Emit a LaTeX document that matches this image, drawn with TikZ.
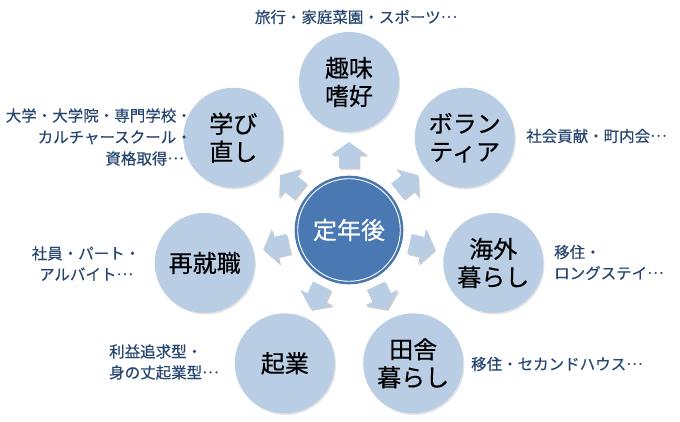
\documentclass[tikz,border=0pt]{standalone}
\usepackage{fontspec}
\setmainfont{Noto Sans CJK JP}
\newfontfamily\jpfont[FakeBold=0.35]{Noto Sans CJK JP}
\newcommand{\middots}{\raisebox{0.33em}{…}}
\usetikzlibrary{calc,shadows}
\definecolor{outerfill}{HTML}{B9CDE5}
\definecolor{centerfill}{HTML}{4A78B2}
\definecolor{centeredge}{HTML}{3F6AA0}
\definecolor{labeltext}{HTML}{264670}
\definecolor{arrowfill}{HTML}{B9CDE5}
\tikzset{
  outer/.style={circle, fill=outerfill, minimum size=100pt, inner sep=0pt, align=center,
    font=\jpfont\fontsize{24}{28}\selectfont, text=black,
    drop shadow={opacity=0.22, shadow xshift=1.2pt, shadow yshift=-1.6pt}},
  centercirc/.style={circle, fill=centerfill, draw=centeredge, line width=0.6pt, minimum size=108pt,
    inner sep=0pt, font=\jpfont\fontsize{24}{28}\selectfont, text=white},
  lab/.style={inner sep=0pt, text=labeltext, font=\jpfont\fontsize{15.5}{21.5}\selectfont},
  blockarrow/.pic={\fill[arrowfill] (-13,-10) -- (0,-10) -- (0,-18) -- (13,0) -- (0,18) -- (0,10) -- (-13,10) -- cycle;},
  blockshadow/.pic={\fill[black, opacity=0.2] (-13,-10) -- (0,-10) -- (0,-18) -- (13,0) -- (0,18) -- (0,10) -- (-13,10) -- cycle;}
}
\begin{document}
\begin{tikzpicture}[x=1pt,y=1pt]
\useasboundingbox (0,0) rectangle (680,422);
\coordinate (c) at (349,192);
\node[centercirc] (ctr) at (c) {定年後};
\draw[white, line width=0.9pt] (ctr.center) circle (51.3);
\node[outer] (o1) at ($(c)+(90:148)$) {趣味\\嗜好};
\node[outer] (o2) at ($(c)+(38.57:148)$) {ボラン\\ティア};
\node[outer] (o3) at ($(c)+(-12.86:148)$) {海外\\暮らし};
\node[outer] (o4) at ($(c)+(-64.29:148)$) {田舎\\暮らし};
\node[outer] (o5) at ($(c)+(-115.71:148)$) {起業};
\node[outer] (o6) at ($(c)+(-167.14:148)$) {再就職};
\node[outer] (o7) at ($(c)+(141.43:148)$) {学び\\直し};
\foreach \n/\a in {o1/90, o2/38.57, o3/-12.86, o4/-64.29, o5/-115.71, o6/-167.14, o7/141.43} {
  \pic[rotate=\a] at ($(ctr)!75pt!(\n)+(1.3,-1.6)$) {blockshadow};
  \pic[rotate=\a] at ($(ctr)!75pt!(\n)$) {blockarrow};
}
\node[lab] (l1) at (356,405) {旅行・家庭菜園・スポーツ\middots};
\node[lab, anchor=west] (l2) at (526,286) {社会貢献・町内会\middots};
\node[lab, anchor=west, align=left, font=\jpfont\fontsize{15.5}{21}\selectfont] (l3) at (554,159.5) {移住・\\ロングステイ\middots};
\node[lab, anchor=west] (l4) at (471,58) {移住・セカンドハウス\middots};
\node[lab, anchor=west, align=left, font=\jpfont\fontsize{15.5}{21}\selectfont] (l5) at (109,60) {利益追求型・\\身の丈起業型\middots};
\node[lab, align=center, font=\jpfont\fontsize{15.5}{21}\selectfont] (l6) at (86,158.5) {社員・パート・\\アルバイト\middots};
\node[lab, anchor=east, align=right] (l7) at (192,285) {大学・大学院・専門学校・\\カルチャースクール・\hspace*{18pt}\\資格取得\middots\hspace*{8pt}};
\end{tikzpicture}
\end{document}
